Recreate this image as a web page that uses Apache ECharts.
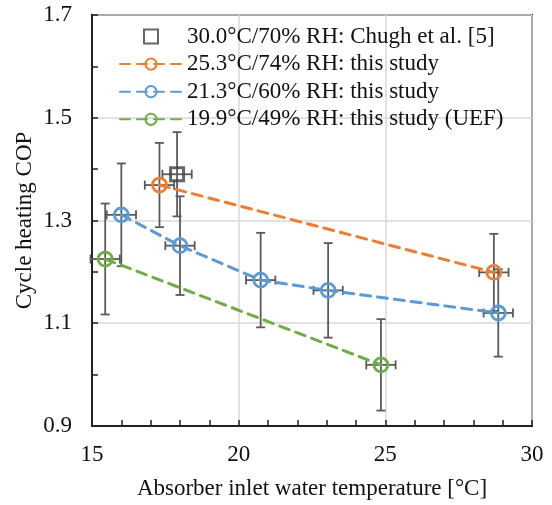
<!DOCTYPE html>
<html>
<head>
<meta charset="utf-8">
<script src="https://cdn.jsdelivr.net/npm/echarts@6/dist/echarts.min.js"></script>
<style>
  html, body { margin: 0; padding: 0; background: #fff; }
  #chart { width: 552px; height: 505px; }
</style>
</head>
<body>
<div id="chart"></div>
<script>
// data
var seriesNames = ['30.0°C/70% RH: Chugh et al. [5]', '25.3°C/74% RH: this study', '21.3°C/60% RH: this study', '19.9°C/49% RH: this study (UEF)'];

var chughX = [17.9];
var chughY = [1.39];
var chughErrX = [0.5];
var chughErrY = [0.082];

var orangeX = [17.3, 28.7];
var orangeY = [1.369, 1.199];
var orangeErrX = [0.5, 0.5];
var orangeErrY = [0.082, 0.075];

var blueX = [16.0, 18.0, 20.75, 23.05, 28.85];
var blueY = [1.311, 1.251, 1.184, 1.164, 1.12];
var blueErrX = [0.5, 0.5, 0.5, 0.5, 0.5];
var blueErrY = [0.1, 0.096, 0.092, 0.092, 0.085];

var greenX = [15.45, 24.85];
var greenY = [1.225, 1.019];
var greenErrX = [0.5, 0.5];
var greenErrY = [0.108, 0.089];

var xTicks = [15, 20, 25, 30];
var yTicks = [0.9, 1.1, 1.3, 1.5, 1.7];

var colors = ['#404040', '#ED7D31', '#5B9BD5', '#70AD47'];
var errColor = '#5a5a5a';
var serif = '"Liberation Serif", "DejaVu Serif", serif';
var squarePath = 'path://M0,0H10V10H0Z';

function pairs(xs, ys) {
    var out = [];
    for (var i = 0; i < xs.length; i++) out.push([xs[i], ys[i]]);
    return out;
}

function errRows(xs, ys, ex, ey) {
    var out = [];
    for (var i = 0; i < xs.length; i++) out.push([xs[i], ys[i], ex[i], ey[i]]);
    return out;
}

var errData = []
    .concat(errRows(chughX, chughY, chughErrX, chughErrY))
    .concat(errRows(orangeX, orangeY, orangeErrX, orangeErrY))
    .concat(errRows(blueX, blueY, blueErrX, blueErrY))
    .concat(errRows(greenX, greenY, greenErrX, greenErrY));

// error bars with caps, through the axes' scales
function renderErr(params, api) {
    var x = api.value(0), y = api.value(1), ex = api.value(2), ey = api.value(3);
    var top = api.coord([x, y + ey]);
    var bot = api.coord([x, y - ey]);
    var lft = api.coord([x - ex, y]);
    var rgt = api.coord([x + ex, y]);
    var cap = 4.5;
    var st = { stroke: errColor, lineWidth: 1.8 };
    var line = function (x1, y1, x2, y2) {
        return { type: 'line', shape: { x1: x1, y1: y1, x2: x2, y2: y2 }, style: st };
    };
    return {
        type: 'group',
        children: [
            line(top[0], top[1], bot[0], bot[1]),
            line(top[0] - cap, top[1], top[0] + cap, top[1]),
            line(bot[0] - cap, bot[1], bot[0] + cap, bot[1]),
            line(lft[0], lft[1], rgt[0], rgt[1]),
            line(lft[0], lft[1] - cap, lft[0], lft[1] + cap),
            line(rgt[0], rgt[1] - cap, rgt[0], rgt[1] + cap)
        ]
    };
}

function lineSeries(name, xs, ys, color) {
    return {
        name: name,
        type: 'line',
        data: pairs(xs, ys),
        symbol: 'circle',
        symbolSize: 14,
        z: 3,
        lineStyle: { color: color, width: 3, type: [10, 7], cap: 'round' },
        itemStyle: { color: 'rgba(255,255,255,0)', borderColor: color, borderWidth: 2.8 }
    };
}

var chart = echarts.init(document.getElementById('chart'));

var option = {
    animation: false,
    backgroundColor: '#fff',
    grid: {
        left: 92, right: 20, top: 15, bottom: 77,
        show: true, borderColor: '#222', borderWidth: 2
    },
    legend: {
        orient: 'vertical',
        left: 114, top: 20,
        itemWidth: 62, itemHeight: 14, itemGap: 4.6,
        textStyle: { fontFamily: serif, fontSize: 23, color: '#111' },
        data: [
            { name: seriesNames[0], icon: squarePath },
            seriesNames[1], seriesNames[2], seriesNames[3]
        ]
    },
    xAxis: {
        type: 'value', min: 15, max: 30, interval: 5,
        name: 'Absorber inlet water temperature [°C]',
        nameLocation: 'middle', nameGap: 51,
        nameTextStyle: { fontFamily: serif, fontSize: 23, color: '#111' },
        axisLine: { lineStyle: { color: '#222', width: 2 } },
        axisTick: { inside: true, length: 6, lineStyle: { color: '#222', width: 1.5 } },
        minorTick: { show: true, splitNumber: 5, length: 6, lineStyle: { color: '#222', width: 1.5 } },
        axisLabel: { margin: 17, fontFamily: serif, fontSize: 23, color: '#111',
            formatter: function (v) { return xTicks.indexOf(v) >= 0 ? String(v) : ''; } },
        splitLine: { show: true, lineStyle: { color: '#d9d9d9', width: 1.5 } }
    },
    yAxis: {
        type: 'value', min: 0.9, max: 1.7, interval: 0.2,
        name: 'Cycle heating COP',
        nameLocation: 'middle', nameGap: 56,
        nameMoveOverlap: false,
        nameTextStyle: { fontFamily: serif, fontSize: 23, color: '#111' },
        axisLine: { lineStyle: { color: '#222', width: 2 } },
        axisTick: { inside: true, length: 6, lineStyle: { color: '#222', width: 1.5 } },
        minorTick: { show: true, splitNumber: 2, length: 6, lineStyle: { color: '#222', width: 1.5 } },
        axisLabel: { margin: 20, fontFamily: serif, fontSize: 23, color: '#111',
            formatter: function (v) {
                for (var i = 0; i < yTicks.length; i++) if (Math.abs(yTicks[i] - v) < 1e-6) return yTicks[i].toFixed(1);
                return '';
            } },
        splitLine: { show: true, lineStyle: { color: '#d9d9d9', width: 1.5 } }
    },
    series: [
        {
            type: 'custom',
            renderItem: renderErr,
            data: errData,
            encode: { x: 0, y: 1 },
            z: 2,
            silent: true
        },
        {
            name: seriesNames[0],
            type: 'scatter',
            data: pairs(chughX, chughY),
            symbol: squarePath,
            symbolKeepAspect: true,
            symbolSize: 13,
            z: 4,
            itemStyle: { color: 'rgba(255,255,255,0)', borderColor: colors[0], borderWidth: 3 }
        },
        lineSeries(seriesNames[1], orangeX, orangeY, colors[1]),
        lineSeries(seriesNames[2], blueX, blueY, colors[2]),
        lineSeries(seriesNames[3], greenX, greenY, colors[3])
    ]
};

chart.setOption(option);
</script>
</body>
</html>
